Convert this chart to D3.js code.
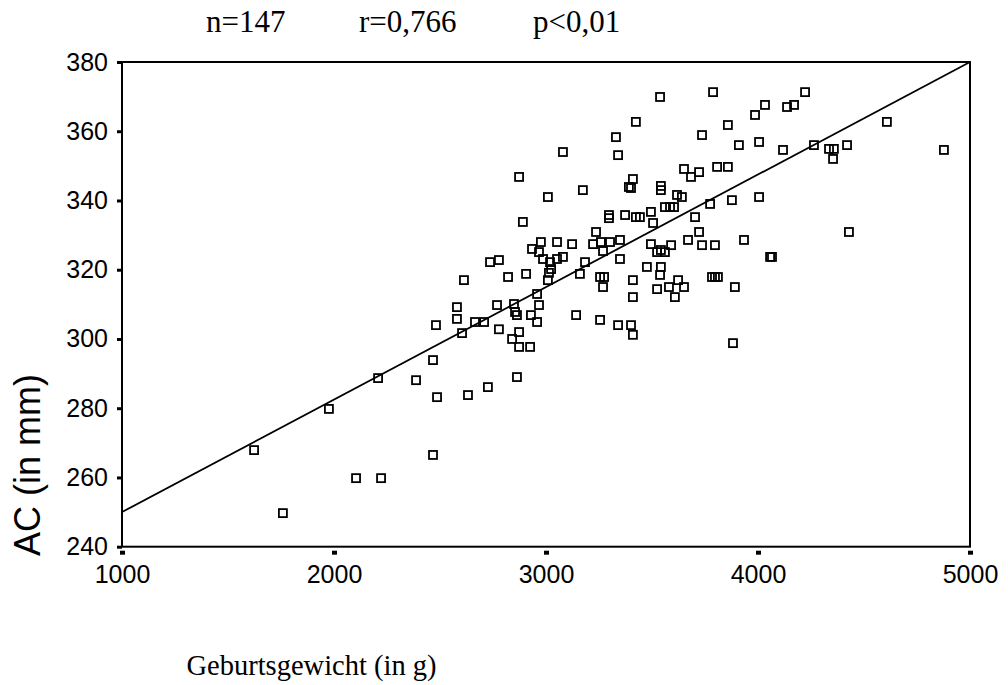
<!DOCTYPE html>
<html>
<head>
<meta charset="utf-8">
<script src="https://cdn.jsdelivr.net/npm/d3@7"></script>
<style>
  html, body { margin: 0; padding: 0; background: #fff; }
  svg { display: block; }
</style>
</head>
<body>
<svg id="chart" width="1008" height="685"></svg>
<script>
// Birth weight (g) vs. abdominal circumference AC (mm), one entry per newborn
const weights = [
  3538, 3424, 3330, 3340, 3080, 2873, 3009, 3174, 3410, 3391,
  3401, 3542, 3542, 2891, 3236, 3297, 3297, 3373, 3424, 3443,
  3495, 3505, 3561, 3585, 3604, 3651, 3684, 3722, 3788, 4222,
  4170, 4137, 4033, 3986, 3858, 3736, 3910, 4005, 4118, 4264,
  4335, 4358, 4354, 4420, 4608, 4877, 3807, 3858, 3618, 3641,
  3703, 3774, 3877, 4005, 3722, 4429, 3670, 3590, 3736, 3797,
  3934, 4057, 4066, 3524, 3542, 3561, 3542, 3538, 3524, 3623,
  3580, 3651, 3608, 3783, 3797, 3811, 3891, 3882, 2976, 3052,
  3123, 2934, 2967, 3222, 3259, 3302, 3349, 3269, 3495, 3349,
  3080, 3052, 2986, 3019, 3024, 3014, 3009, 3184, 3160, 2778,
  2736, 2906, 2821, 2613, 3255, 3274, 3269, 3476, 3410, 3410,
  2958, 2967, 2849, 2769, 2580, 2580, 2854, 2863, 2929, 2958,
  2665, 2708, 2481, 2604, 2778, 2873, 2840, 2873, 2925, 3142,
  3255, 3340, 3401, 3410, 2467, 2208, 2387, 2486, 2632, 2726,
  2863, 2467, 2222, 1976, 1623, 1759, 2104
];
const acValues = [
  369.9, 362.7, 358.3, 353.1, 354.0, 346.8, 341.0, 343.0, 346.2, 343.9,
  343.6, 344.2, 343.0, 333.8, 330.9, 335.8, 334.9, 335.8, 335.2, 335.2,
  336.7, 333.5, 338.1, 338.1, 338.1, 349.1, 346.8, 348.2, 371.3, 371.3,
  367.6, 367.0, 367.6, 364.7, 361.8, 358.9, 356.0, 356.9, 354.6, 356.0,
  354.9, 354.9, 352.0, 356.0, 362.7, 354.6, 349.7, 349.7, 341.6, 341.0,
  335.2, 339.0, 340.1, 341.0, 330.9, 330.9, 328.6, 327.1, 327.1, 327.1,
  328.6, 323.7, 323.7, 325.1, 325.7, 325.1, 320.8, 318.5, 314.4, 317.0,
  315.0, 315.0, 312.1, 317.9, 317.9, 317.9, 315.0, 298.8, 328.0, 328.0,
  327.4, 326.0, 325.1, 327.4, 328.0, 328.0, 328.6, 325.4, 327.4, 323.1,
  323.7, 323.1, 323.1, 322.2, 320.2, 319.1, 317.0, 322.2, 318.8, 322.8,
  322.2, 318.8, 317.9, 317.0, 317.9, 317.9, 315.0, 320.8, 317.0, 312.1,
  313.0, 309.8, 310.1, 309.8, 309.2, 305.8, 307.8, 306.9, 306.9, 304.9,
  304.9, 304.9, 304.0, 301.7, 302.8, 302.0, 300.0, 297.7, 297.7, 306.9,
  305.5, 304.0, 304.0, 301.2, 293.9, 288.7, 288.1, 283.2, 283.8, 286.1,
  289.0, 266.5, 259.8, 279.8, 267.9, 249.7, 259.8
];

// Fitted regression line end points
const fitX = [1000, 5000];
const fitY = [250, 380];

// Axis ticks
const xTicks = [1000, 2000, 3000, 4000, 5000];
const yTicks = [240, 260, 280, 300, 320, 340, 360, 380];

// Statistics shown above the plot
const statLabels = ["n=147", "r=0,766", "p<0,01"];
const xTitle = "Geburtsgewicht (in g)";
const yTitle = "AC (in mm)";

const svg = d3.select("#chart");
const plot = { left: 122, right: 970, top: 62, bottom: 546.7 };

const x = d3.scaleLinear().domain([1000, 5000]).range([plot.left, plot.right]);
const y = d3.scaleLinear().domain([240, 380]).range([plot.bottom, plot.top]);

svg.append("rect").attr("width", 1008).attr("height", 685).attr("fill", "#fff");

// Y axis
const yAxis = svg.append("g")
  .attr("transform", `translate(${plot.left},0)`)
  .call(d3.axisLeft(y).tickValues(yTicks).tickSize(5).tickPadding(9).tickFormat(d3.format("d")));
yAxis.select(".domain").remove();
yAxis.selectAll(".tick line").attr("stroke", "#000").attr("stroke-width", 3);
yAxis.selectAll(".tick text")
  .attr("fill", "#000")
  .style("font-family", "'Liberation Sans', Arial, sans-serif")
  .style("font-size", "25px");

// X axis
const xAxis = svg.append("g")
  .attr("transform", `translate(0,${plot.bottom})`)
  .call(d3.axisBottom(x).tickValues(xTicks).tickSize(8).tickPadding(10.5).tickFormat(d3.format("d")));
xAxis.select(".domain").remove();
xAxis.selectAll(".tick line").attr("y1", 4).attr("stroke", "#000").attr("stroke-width", 5);
xAxis.selectAll(".tick text")
  .attr("fill", "#000")
  .style("font-family", "'Liberation Sans', Arial, sans-serif")
  .style("font-size", "25px");

// Plot frame
svg.append("rect")
  .attr("x", plot.left).attr("y", plot.top)
  .attr("width", plot.right - plot.left).attr("height", plot.bottom - plot.top)
  .attr("fill", "none").attr("stroke", "#000").attr("stroke-width", 2);

// Regression line
svg.append("line")
  .attr("x1", x(fitX[0])).attr("y1", y(fitY[0]))
  .attr("x2", x(fitX[1])).attr("y2", y(fitY[1]))
  .attr("stroke", "#000").attr("stroke-width", 1.8);

// Hollow square markers
const s = 8;
svg.append("g").selectAll("rect")
  .data(d3.zip(weights, acValues))
  .join("rect")
  .attr("x", d => x(d[0]) - s / 2)
  .attr("y", d => y(d[1]) - s / 2)
  .attr("width", s).attr("height", s)
  .attr("fill", "none").attr("stroke", "#000").attr("stroke-width", 1.8);

// Statistics line
const statX = [206, 359, 533];
svg.append("g").selectAll("text")
  .data(statLabels)
  .join("text")
  .attr("x", (d, i) => statX[i]).attr("y", 32)
  .attr("fill", "#000")
  .style("font-family", "'Liberation Serif', 'Times New Roman', serif")
  .style("font-size", "31px")
  .text(d => d);

// Axis titles
svg.append("text")
  .attr("x", 311.5).attr("y", 675)
  .attr("text-anchor", "middle")
  .attr("fill", "#000")
  .style("font-family", "'Liberation Serif', 'Times New Roman', serif")
  .style("font-size", "28.5px")
  .text(xTitle);

svg.append("text")
  .attr("transform", "translate(40,465) rotate(-90)")
  .attr("text-anchor", "middle")
  .attr("fill", "#000")
  .style("font-family", "'Liberation Sans', Arial, sans-serif")
  .style("font-size", "36px")
  .text(yTitle);
</script>
</body>
</html>
